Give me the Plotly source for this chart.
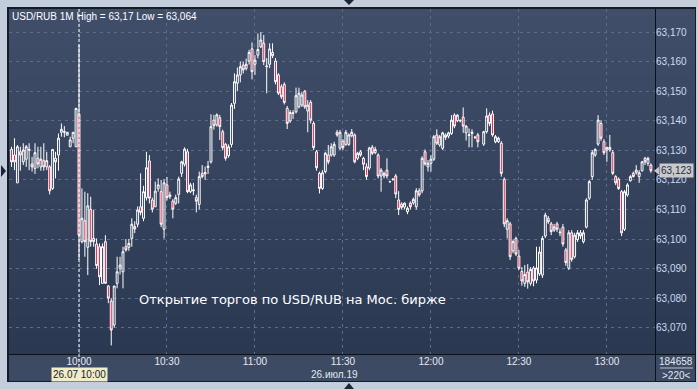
import plotly.graph_objects as go

DATE = "2019-07-26"

times = [
    "09:37", "09:38", "09:39", "09:40", "09:41", "09:42", "09:43", "09:44", "09:45", "09:46",
    "09:47", "09:48", "09:49", "09:50", "09:51", "09:52", "09:53", "09:54", "09:55", "09:56",
    "09:57", "09:58", "09:59",
    "10:00", "10:01", "10:02", "10:03", "10:04", "10:05", "10:06", "10:07", "10:08", "10:09",
    "10:10", "10:11", "10:12", "10:13", "10:14", "10:15", "10:16", "10:17", "10:18", "10:19",
    "10:20", "10:21", "10:22", "10:23", "10:24", "10:25", "10:26", "10:27", "10:28", "10:29",
    "10:30", "10:31", "10:32", "10:33", "10:34", "10:35", "10:36", "10:37", "10:38", "10:39",
    "10:40", "10:41", "10:42", "10:43", "10:44", "10:45", "10:46", "10:47", "10:48", "10:49",
    "10:50", "10:51", "10:52", "10:53", "10:54", "10:55", "10:56", "10:57", "10:58", "10:59",
    "11:00", "11:01", "11:02", "11:03", "11:04", "11:05", "11:06", "11:07", "11:08", "11:09",
    "11:10", "11:11", "11:12", "11:13", "11:14", "11:15", "11:16", "11:17", "11:18", "11:19",
    "11:20", "11:21", "11:22", "11:23", "11:24", "11:25", "11:26", "11:27", "11:28", "11:29",
    "11:30", "11:31", "11:32", "11:33", "11:34", "11:35", "11:36", "11:37", "11:38", "11:39",
    "11:40", "11:41", "11:42", "11:43", "11:44", "11:45", "11:46", "11:47", "11:48", "11:49",
    "11:50", "11:51", "11:52", "11:53", "11:54", "11:55", "11:56", "11:57", "11:58", "11:59",
    "12:00", "12:01", "12:02", "12:03", "12:04", "12:05", "12:06", "12:07", "12:08", "12:09",
    "12:10", "12:11", "12:12", "12:13", "12:14", "12:15", "12:16",
    "12:18", "12:19", "12:20", "12:21", "12:22", "12:23", "12:24", "12:25", "12:26", "12:27",
    "12:28", "12:29",
    "12:30", "12:31", "12:32", "12:33", "12:34", "12:35", "12:36", "12:37", "12:38", "12:39",
    "12:40", "12:41", "12:42", "12:43", "12:44", "12:45", "12:46", "12:47", "12:48", "12:49",
    "12:50", "12:51", "12:52", "12:53", "12:54", "12:55", "12:56", "12:57", "12:58", "12:59",
    "13:00", "13:01", "13:02", "13:03", "13:04", "13:05", "13:06", "13:07", "13:08", "13:09",
    "13:10", "13:11", "13:12", "13:13", "13:14", "13:15",
]

opens = [
    63.1303, 63.1284, 63.1190, 63.1295, 63.1261, 63.1270, 63.1300, 63.1254, 63.1239, 63.1273,
    63.1244, 63.1265, 63.1244, 63.1244, 63.1171, 63.1273, 63.1284, 63.1361, 63.1361, 63.1351,
    63.1312, 63.1341, 63.1312,
    63.1423, 63.0991, 63.1062, 63.0972, 63.1100, 63.1002, 63.0983, 63.0974, 63.0850, 63.0991,
    63.0841, 63.0790, 63.0709, 63.0850, 63.0901, 63.0889, 63.0974, 63.0972, 63.1002, 63.1042,
    63.1050, 63.1109, 63.1070, 63.1140, 63.1264, 63.1132, 63.1109, 63.1170, 63.1160, 63.1033,
    63.1183, 63.1143, 63.1128, 63.1121, 63.1151, 63.1222, 63.1253, 63.1295, 63.1160, 63.1163,
    63.1140, 63.1117, 63.1222, 63.1220, 63.1242, 63.1261, 63.1402, 63.1386, 63.1410, 63.1363,
    63.1320, 63.1282, 63.1320, 63.1459, 63.1527, 63.1555, 63.1588, 63.1577, 63.1602, 63.1643,
    63.1591, 63.1622, 63.1650, 63.1662, 63.1583, 63.1591, 63.1631, 63.1602, 63.1555, 63.1515,
    63.1523, 63.1442, 63.1399, 63.1427, 63.1430, 63.1447, 63.1453, 63.1500, 63.1433, 63.1462,
    63.1391, 63.1295, 63.1222, 63.1171, 63.1228, 63.1284, 63.1284, 63.1284, 63.1361, 63.1307,
    63.1331, 63.1320, 63.1320, 63.1349, 63.1352, 63.1273, 63.1295, 63.1273, 63.1244, 63.1240,
    63.1310, 63.1292, 63.1284, 63.1213, 63.1213, 63.1233, 63.1194, 63.1202, 63.1213, 63.1132,
    63.1118, 63.1108, 63.1092, 63.1121, 63.1122, 63.1109, 63.1163, 63.1163, 63.1295, 63.1244,
    63.1256, 63.1270, 63.1352, 63.1318, 63.1307, 63.1352, 63.1348, 63.1357, 63.1419, 63.1400,
    63.1400, 63.1412, 63.1359, 63.1350, 63.1357, 63.1344, 63.1352,
    63.1321, 63.1363, 63.1419, 63.1423, 63.1329, 63.1329, 63.1324, 63.1202, 63.1033, 63.1051,
    63.0960, 63.1002,
    63.0942, 63.0890, 63.0850, 63.0888, 63.0850, 63.0902, 63.0861, 63.0882, 63.0878, 63.1010,
    63.1070, 63.1051, 63.1030, 63.1051, 63.1021, 63.1040, 63.0963, 63.0901, 63.1021, 63.0940,
    63.0998, 63.1021, 63.0991, 63.1040, 63.1138, 63.1211, 63.1284, 63.1321, 63.1391, 63.1329,
    63.1301, 63.1301, 63.1292, 63.1211, 63.1202, 63.1160, 63.1033, 63.1149, 63.1197, 63.1222,
    63.1224, 63.1211, 63.1231, 63.1273, 63.1256, 63.1250,
]

highs = [
    63.1312, 63.1341, 63.1318, 63.1312, 63.1324, 63.1318, 63.1324, 63.1278, 63.1324, 63.1312,
    63.1312, 63.1324, 63.1295, 63.1250, 63.1303, 63.1295, 63.1357, 63.1391, 63.1382, 63.1361,
    63.1346, 63.1361, 63.1442,
    63.1656, 63.1171, 63.1160, 63.1155, 63.1143, 63.1098, 63.1002, 63.0985, 63.0985, 63.1013,
    63.0844, 63.0800, 63.0841, 63.0940, 63.0940, 63.0974, 63.1000, 63.1000, 63.1070, 63.1060,
    63.1110, 63.1222, 63.1180, 63.1295, 63.1284, 63.1140, 63.1194, 63.1205, 63.1200, 63.1202,
    63.1210, 63.1160, 63.1135, 63.1150, 63.1211, 63.1265, 63.1310, 63.1305, 63.1190, 63.1190,
    63.1150, 63.1228, 63.1250, 63.1245, 63.1264, 63.1422, 63.1420, 63.1425, 63.1420, 63.1370,
    63.1325, 63.1320, 63.1460, 63.1560, 63.1580, 63.1600, 63.1600, 63.1610, 63.1640, 63.1665,
    63.1622, 63.1695, 63.1700, 63.1690, 63.1612, 63.1662, 63.1662, 63.1612, 63.1561, 63.1523,
    63.1530, 63.1450, 63.1436, 63.1436, 63.1512, 63.1512, 63.1498, 63.1504, 63.1470, 63.1470,
    63.1398, 63.1301, 63.1228, 63.1233, 63.1295, 63.1318, 63.1324, 63.1329, 63.1369, 63.1369,
    63.1338, 63.1369, 63.1357, 63.1372, 63.1357, 63.1295, 63.1301, 63.1278, 63.1256, 63.1312,
    63.1318, 63.1312, 63.1290, 63.1240, 63.1228, 63.1273, 63.1197, 63.1205, 63.1220, 63.1162,
    63.1124, 63.1124, 63.1110, 63.1127, 63.1140, 63.1172, 63.1172, 63.1280, 63.1303, 63.1267,
    63.1284, 63.1352, 63.1371, 63.1352, 63.1363, 63.1357, 63.1363, 63.1419, 63.1425, 63.1422,
    63.1405, 63.1445, 63.1385, 63.1374, 63.1371, 63.1348, 63.1359,
    63.1366, 63.1442, 63.1428, 63.1434, 63.1352, 63.1346, 63.1331, 63.1208, 63.1070, 63.1058,
    63.0998, 63.1008,
    63.0963, 63.0905, 63.0912, 63.0915, 63.0905, 63.0908, 63.0974, 63.0974, 63.1010, 63.1089,
    63.1078, 63.1058, 63.1051, 63.1058, 63.1036, 63.1051, 63.0970, 63.1030, 63.1030, 63.1021,
    63.1030, 63.1030, 63.1030, 63.1138, 63.1200, 63.1301, 63.1307, 63.1419, 63.1402, 63.1338,
    63.1312, 63.1352, 63.1301, 63.1216, 63.1208, 63.1166, 63.1166, 63.1189, 63.1216, 63.1228,
    63.1250, 63.1233, 63.1264, 63.1278, 63.1278, 63.1256,
]

lows = [
    63.1244, 63.1233, 63.1190, 63.1231, 63.1250, 63.1244, 63.1233, 63.1228, 63.1220, 63.1239,
    63.1231, 63.1231, 63.1233, 63.1151, 63.1166, 63.1205, 63.1231, 63.1346, 63.1344, 63.1351,
    63.1312, 63.1324, 63.1312,
    63.0929, 63.0985, 63.0940, 63.0878, 63.0974, 63.0974, 63.0899, 63.0844, 63.0850, 63.0850,
    63.0783, 63.0640, 63.0700, 63.0833, 63.0880, 63.0833, 63.0957, 63.0960, 63.0974, 63.1020,
    63.1040, 63.1080, 63.1060, 63.1130, 63.1120, 63.1090, 63.1109, 63.1160, 63.1040, 63.1002,
    63.1130, 63.1135, 63.1070, 63.1115, 63.1120, 63.1210, 63.1245, 63.1155, 63.1155, 63.1148,
    63.1090, 63.1100, 63.1205, 63.1200, 63.1220, 63.1255, 63.1370, 63.1380, 63.1335, 63.1300,
    63.1265, 63.1275, 63.1310, 63.1440, 63.1500, 63.1530, 63.1560, 63.1570, 63.1590, 63.1540,
    63.1555, 63.1611, 63.1646, 63.1588, 63.1493, 63.1578, 63.1612, 63.1523, 63.1487, 63.1474,
    63.1455, 63.1372, 63.1393, 63.1406, 63.1425, 63.1442, 63.1447, 63.1440, 63.1361, 63.1391,
    63.1301, 63.1231, 63.1154, 63.1166, 63.1222, 63.1253, 63.1278, 63.1278, 63.1346, 63.1301,
    63.1301, 63.1315, 63.1315, 63.1344, 63.1256, 63.1267, 63.1278, 63.1233, 63.1200, 63.1233,
    63.1284, 63.1287, 63.1205, 63.1160, 63.1205, 63.1205, 63.1190, 63.1197, 63.1138, 63.1081,
    63.1100, 63.1100, 63.1084, 63.1100, 63.1116, 63.1100, 63.1143, 63.1155, 63.1248, 63.1228,
    63.1228, 63.1264, 63.1318, 63.1312, 63.1301, 63.1335, 63.1341, 63.1352, 63.1375, 63.1395,
    63.1395, 63.1359, 63.1333, 63.1310, 63.1310, 63.1338, 63.1310,
    63.1315, 63.1357, 63.1382, 63.1346, 63.1324, 63.1325, 63.1211, 63.1040, 63.1002, 63.0929,
    63.0952, 63.0942,
    63.0895, 63.0842, 63.0838, 63.0832, 63.0842, 63.0840, 63.0850, 63.0875, 63.0868, 63.1003,
    63.1051, 63.1013, 63.1024, 63.1024, 63.1010, 63.0974, 63.0909, 63.0895, 63.0923, 63.0934,
    63.0990, 63.1000, 63.0985, 63.1036, 63.1132, 63.1200, 63.1278, 63.1315, 63.1332, 63.1284,
    63.1261, 63.1295, 63.1216, 63.1182, 63.1166, 63.1010, 63.1027, 63.1143, 63.1194, 63.1208,
    63.1218, 63.1190, 63.1228, 63.1250, 63.1247, 63.1224,
]

closes = [
    63.1261, 63.1261, 63.1312, 63.1284, 63.1301, 63.1312, 63.1303, 63.1244, 63.1292, 63.1254,
    63.1270, 63.1244, 63.1265, 63.1163, 63.1303, 63.1261, 63.1341, 63.1371, 63.1363, 63.1361,
    63.1335, 63.1361, 63.1442,
    63.1013, 63.1070, 63.0991, 63.1112, 63.0991, 63.0991, 63.0910, 63.0872, 63.0974, 63.0850,
    63.0800, 63.0692, 63.0841, 63.0889, 63.0912, 63.0957, 63.0963, 63.0985, 63.1050, 63.1034,
    63.1098, 63.1090, 63.1160, 63.1241, 63.1138, 63.1101, 63.1162, 63.1183, 63.1050, 63.1190,
    63.1140, 63.1149, 63.1101, 63.1140, 63.1203, 63.1261, 63.1304, 63.1160, 63.1183, 63.1166,
    63.1128, 63.1211, 63.1211, 63.1225, 63.1246, 63.1380, 63.1383, 63.1420, 63.1380, 63.1309,
    63.1273, 63.1312, 63.1453, 63.1532, 63.1555, 63.1583, 63.1572, 63.1591, 63.1631, 63.1566,
    63.1605, 63.1641, 63.1673, 63.1600, 63.1585, 63.1643, 63.1620, 63.1532, 63.1493, 63.1481,
    63.1462, 63.1391, 63.1428, 63.1425, 63.1485, 63.1493, 63.1487, 63.1447, 63.1453, 63.1402,
    63.1309, 63.1241, 63.1171, 63.1224, 63.1290, 63.1261, 63.1312, 63.1320, 63.1352, 63.1361,
    63.1309, 63.1361, 63.1352, 63.1361, 63.1261, 63.1290, 63.1284, 63.1253, 63.1211, 63.1308,
    63.1290, 63.1303, 63.1213, 63.1233, 63.1222, 63.1213, 63.1194, 63.1202, 63.1152, 63.1100,
    63.1107, 63.1121, 63.1104, 63.1109, 63.1134, 63.1163, 63.1149, 63.1273, 63.1254, 63.1256,
    63.1270, 63.1346, 63.1324, 63.1346, 63.1359, 63.1344, 63.1359, 63.1402, 63.1382, 63.1419,
    63.1400, 63.1382, 63.1382, 63.1352, 63.1361, 63.1344, 63.1329,
    63.1363, 63.1416, 63.1391, 63.1352, 63.1346, 63.1341, 63.1222, 63.1051, 63.1062, 63.0940,
    63.0991, 63.0949,
    63.0901, 63.0858, 63.0880, 63.0855, 63.0897, 63.0858, 63.0902, 63.0956, 63.1002, 63.1081,
    63.1058, 63.1025, 63.1041, 63.1033, 63.1023, 63.0983, 63.0920, 63.1021, 63.0931, 63.1013,
    63.1021, 63.1010, 63.1021, 63.1132, 63.1194, 63.1292, 63.1303, 63.1402, 63.1341, 63.1292,
    63.1310, 63.1310, 63.1222, 63.1190, 63.1171, 63.1021, 63.1160, 63.1183, 63.1211, 63.1211,
    63.1233, 63.1224, 63.1261, 63.1261, 63.1273, 63.1231,
]

x_ticks_start = "10:00"
cursor_time = "10:00"
cursor_label = "26.07 10:00"
date_label = "26.июл.19"
note_text = "Открытие торгов по USD/RUB на Мос. бирже"
volume_text = "184658"
bars_text = ">220<"

x = [f"{DATE} {t}" for t in times]

W, H = 698, 389
ML, MR, MT, MB = 9, 43, 9, 35
PW, PH = W - ML - MR, H - MT - MB


def fx(p):
    return (p - ML) / PW


def fy(p):
    return (H - MB - p) / PH


def fmt(v):
    s = f"{v:.3f}".rstrip("0").rstrip(".")
    return s.replace(".", ",")


shapes = []
# dark frame
shapes.append(dict(type="rect", xref="paper", yref="paper", x0=fx(7), x1=fx(696),
                   y0=fy(382), y1=fy(7), fillcolor="#151c29", line_width=0, layer="below"))
# gradient panel (plot + right axis)
top_c = (64, 78, 105)
bot_c = (43, 56, 82)
N = 46
for i in range(N):
    a = 9 + (354 - 9) * i / N
    b = 9 + (354 - 9) * (i + 1) / N
    t = (i + 0.5) / N
    c = tuple(round(top_c[k] + (bot_c[k] - top_c[k]) * t) for k in range(3))
    shapes.append(dict(type="rect", xref="paper", yref="paper", x0=fx(9), x1=fx(695),
                       y0=fy(min(b + 0.6, 354)), y1=fy(a), fillcolor="rgb(%d,%d,%d)" % c,
                       line_width=0, layer="below"))
# bottom panel
shapes.append(dict(type="rect", xref="paper", yref="paper", x0=fx(9), x1=fx(695),
                   y0=fy(381), y1=fy(355), fillcolor="#3d4a64", line_width=0, layer="below"))
# separators
shapes.append(dict(type="line", xref="paper", yref="paper", x0=fx(655.5), x1=fx(655.5),
                   y0=fy(381), y1=fy(9), line=dict(color="#0b1019", width=1)))
shapes.append(dict(type="line", xref="paper", yref="paper", x0=fx(9), x1=fx(695),
                   y0=fy(354.5), y1=fy(354.5), line=dict(color="#0b1019", width=1)))
shapes.append(dict(type="line", xref="paper", yref="paper", x0=fx(660), x1=fx(693),
                   y0=fy(368), y1=fy(368), line=dict(color="#b8c2d2", width=1)))
# cursor line
shapes.append(dict(type="line", xref="x", yref="paper", x0=f"{DATE} {cursor_time}",
                   x1=f"{DATE} {cursor_time}", y0=fy(367), y1=1,
                   line=dict(color="white", width=1, dash="3px,2px")))


def tri(pts, color="#1b2538"):
    d = "M " + " L ".join(f"{fx(a):.5f},{fy(b):.5f}" for a, b in pts) + " Z"
    return dict(type="path", xref="paper", yref="paper", path=d, fillcolor=color,
                line_width=0)


shapes.append(tri([(1, 165), (6, 171), (1, 177)]))
shapes.append(tri([(344, 0), (354, 0), (349, 5)]))
shapes.append(tri([(344, 389), (354, 389), (349, 383)]))

# last price marker arrow
last = closes[-1]
dv = 4 / 2957
shapes.append(dict(type="path", xref="paper", yref="y",
                   path=f"M {fx(654):.5f},{last} L {fx(659):.5f},{last + dv} L {fx(659):.5f},{last - dv} Z",
                   fillcolor="#c9c9c9", line_width=0))

font_ui = "Liberation Sans, Arial, sans-serif"

annotations = [
    dict(xref="paper", yref="paper", x=fx(10), y=fy(9), xanchor="left", yanchor="top",
         text=f"USD/RUB 1M High = {fmt(max(highs))} Low = {fmt(min(lows))}", showarrow=False,
         font=dict(family=font_ui, size=10, color="white")),
    dict(xref="paper", yref="paper", x=fx(292), y=fy(299), xanchor="center", yanchor="middle",
         text=note_text, showarrow=False,
         font=dict(family="DejaVu Sans, sans-serif", size=13, color="white")),
    dict(xref="paper", yref="paper", x=fx(334), y=fy(374), xanchor="center", yanchor="middle",
         text=date_label, showarrow=False, font=dict(family=font_ui, size=10, color="#e4e9f0")),
    dict(xref="x", yref="paper", x=f"{DATE} {cursor_time}", y=fy(374), xanchor="center",
         yanchor="middle", text=cursor_label, showarrow=False, bgcolor="#efedca", borderpad=1,
         font=dict(family=font_ui, size=10, color="#1a1a1a")),
    dict(xref="paper", yref="paper", x=fx(676), y=fy(361), xanchor="center", yanchor="middle",
         text=volume_text, showarrow=False, font=dict(family=font_ui, size=10, color="#e4e9f0")),
    dict(xref="paper", yref="paper", x=fx(676), y=fy(375), xanchor="center", yanchor="middle",
         text=bars_text, showarrow=False, font=dict(family=font_ui, size=10, color="#e4e9f0")),
    dict(xref="paper", yref="y", x=fx(659), y=last, xanchor="left", yanchor="middle",
         text=f"{last:.3f}".replace(".", ","),
         showarrow=False, bgcolor="#c9c9c9", borderpad=1,
         font=dict(family=font_ui, size=10, color="#1c2a4c")),
]

fig = go.Figure(go.Candlestick(
    x=x, open=opens, high=highs, low=lows, close=closes,
    increasing=dict(line=dict(color="white", width=1), fillcolor="rgba(0,0,0,0)"),
    decreasing=dict(line=dict(color="white", width=1), fillcolor="#e3173f"),
    whiskerwidth=0, showlegend=False, hoverinfo="skip",
))

fig.update_layout(
    width=W, height=H,
    margin=dict(l=ML, r=MR, t=MT, b=MB, pad=0),
    paper_bgcolor="#c3cddb",
    plot_bgcolor="rgba(0,0,0,0)",
    separators=", ",
    boxgap=0.08,
    showlegend=False,
    shapes=shapes,
    annotations=annotations,
    xaxis=dict(
        type="date",
        range=[f"{DATE} 09:36:08", f"{DATE} 13:16:24"],
        rangeslider=dict(visible=False),
        tick0=f"{DATE} {x_ticks_start}", dtick=30 * 60 * 1000,
        tickformat="%H:%M",
        showgrid=True, gridcolor="#5d6c8a", gridwidth=1, griddash="3px,4px",
        zeroline=False, showline=False, ticks="",
        tickfont=dict(family=font_ui, size=10, color="#e4e9f0"),
        fixedrange=True,
    ),
    yaxis=dict(
        side="right",
        range=[63.0611, 63.1778],
        tick0=63.07, dtick=0.01, tickformat=".3f",
        showgrid=True, gridcolor="#5d6c8a", gridwidth=1, griddash="3px,4px",
        zeroline=False, showline=False, ticks="",
        tickfont=dict(family=font_ui, size=10, color="#cddaf0"),
        fixedrange=True,
    ),
)

fig.write_html("out.html")
